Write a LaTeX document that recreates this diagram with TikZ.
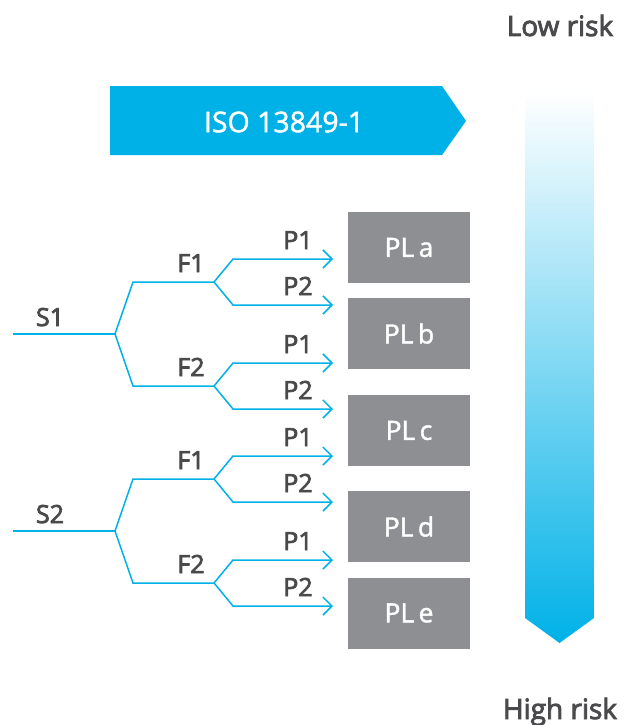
\documentclass[tikz,border=0pt]{standalone}
\usepackage{fontspec}
\setmainfont{Open Sans}
\newfontfamily\heavyfont{Open Sans}[FakeBold=3]
\newfontfamily\mediumfont{Open Sans}[FakeBold=1.5]
\usetikzlibrary{arrows.meta}
\definecolor{riskblue}{HTML}{00B1E7}
\definecolor{plgray}{HTML}{8E8F93}
\definecolor{labelgray}{HTML}{4A4A4C}

\begin{document}
\begin{tikzpicture}[x=1pt,y=-1pt]
	\tikzset{branch/.style={draw=riskblue,line width=1.5pt,line join=miter},
		leaf/.style={branch,-{Straight Barb[length=9pt,width=18pt]}},
		treelabel/.style={anchor=base,text=labelgray,inner sep=0pt,font=\heavyfont\fontsize{25}{25}\selectfont},
		plbox/.style={fill=plgray,text=white,minimum width=122pt,minimum height=71pt,font=\mediumfont\fontsize{26.5}{26.5}\selectfont},
		risklabel/.style={anchor=base,text=labelgray,inner sep=0pt,font=\heavyfont\fontsize{28}{28}\selectfont}}
	\useasboundingbox (0,0) rectangle (624,725);

	% standard banner
	\fill[riskblue] (110,86) -- (442,86) -- (466,121) -- (442,155) -- (110,155) -- cycle;
	\node[text=white,font=\mediumfont\fontsize{28.5}{28.5}\selectfont] (iso) at (284,122) {ISO 13849-1};

	% risk scale
	\shade[top color=white,bottom color=riskblue] (525,91) -- (594,91) -- (594,618) -- (559.5,643) -- (525,618) -- cycle;
	\node[risklabel] (low) at (560,36) {Low risk};
	\node[risklabel] (high) at (560,719) {High risk};

	% risk graph
	\foreach \t/\o in {1/0,2/197}{
		\coordinate (s\t-start) at (13,{334+\o});
		\coordinate (s\t) at (115,{334+\o});
		\node[treelabel] (s\t-lbl) at (50,{326+\o}) {S\t};
		\foreach \f/\fy in {1/282,2/386}{
			\coordinate (s\t-f\f-knee) at (133,{\fy+\o});
			\coordinate (s\t-f\f) at (214,{\fy+\o});
			\node[treelabel] (s\t-f\f-lbl) at (191,{\fy+\o-10}) {F\f};
			\foreach \p/\dy in {1/-23,2/23}{
				\coordinate (s\t-f\f-p\p-knee) at (233,{\fy+\dy+\o});
				\coordinate (s\t-f\f-p\p) at (333,{\fy+\dy+\o});
				\node[treelabel] (s\t-f\f-p\p-lbl) at (298,{\fy+\dy+\o-10}) {P\p};
				\draw[leaf] (s\t-f\f) -- (s\t-f\f-p\p-knee) -- (s\t-f\f-p\p);
			}
		}
		\draw[branch] (s\t-start) -- (s\t);
		\draw[branch] (s\t-f1) -- (s\t-f1-knee) -- (s\t) -- (s\t-f2-knee) -- (s\t-f2);
	}

	% performance levels
	\node[plbox] (pla) at (409,247.5) {PL\,a};
	\node[plbox] (plb) at (409,333.5) {PL\,b};
	\node[plbox] (plc) at (409,430.5) {PL\,c};
	\node[plbox] (pld) at (409,526.5) {PL\,d};
	\node[plbox] (ple) at (409,613) {PL\,e};
\end{tikzpicture}
\end{document}
